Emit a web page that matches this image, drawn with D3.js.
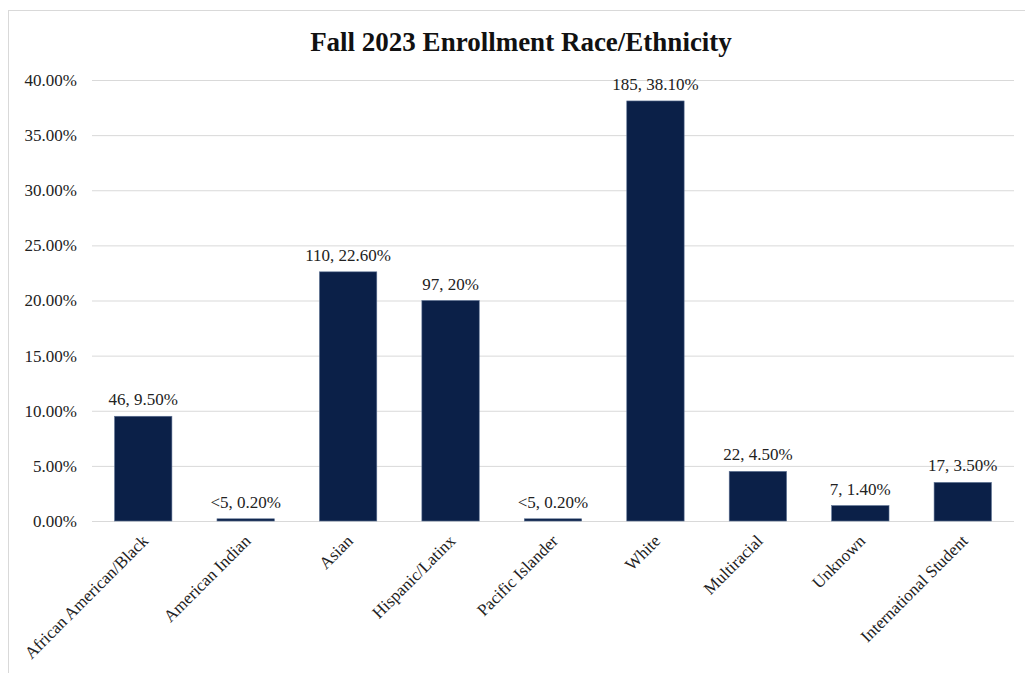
<!DOCTYPE html>
<html>
<head>
<meta charset="utf-8">
<script src="https://cdn.jsdelivr.net/npm/d3@7"></script>
<style>
  html, body { margin: 0; padding: 0; background: #fff; }
  svg { display: block; }
</style>
</head>
<body>
<svg id="chart" width="1025" height="673"></svg>
<script>
// Fall 2023 enrollment by race/ethnicity
const categories = ["African American/Black", "American Indian", "Asian", "Hispanic/Latinx",
  "Pacific Islander", "White", "Multiracial", "Unknown", "International Student"];
const percents = [9.5, 0.2, 22.6, 20, 0.2, 38.1, 4.5, 1.4, 3.5];
const labels = ["46, 9.50%", "<5, 0.20%", "110, 22.60%", "97, 20%", "<5, 0.20%",
  "185, 38.10%", "22, 4.50%", "7, 1.40%", "17, 3.50%"];
const yTicks = [0, 5, 10, 15, 20, 25, 30, 35, 40];

const serif = "'Liberation Serif', 'DejaVu Serif', serif";
const svg = d3.select("#chart");

// outer frame
svg.append("rect")
  .attr("x", 8.5).attr("y", 10.5)
  .attr("width", 1030).attr("height", 680)
  .attr("fill", "none").attr("stroke", "#d9d9d9").attr("stroke-width", 1);

const margin = { left: 92, right: 1014, top: 80, bottom: 521 };

const x = d3.scaleBand()
  .domain(categories)
  .range([margin.left, margin.right])
  .paddingInner(0.44).paddingOuter(0.22);

const y = d3.scaleLinear().domain([0, 40]).range([margin.bottom, margin.top]);

// title
svg.append("text")
  .attr("x", 521).attr("y", 51)
  .attr("text-anchor", "middle")
  .attr("font-family", serif).attr("font-weight", "bold")
  .attr("font-size", 27).attr("fill", "#111")
  .text("Fall 2023 Enrollment Race/Ethnicity");

// gridlines and y labels
const yAxis = d3.axisLeft(y)
  .tickValues(yTicks)
  .tickSize(-(margin.right - margin.left))
  .tickPadding(15)
  .tickFormat(d => d.toFixed(2) + "%");

const gy = svg.append("g")
  .attr("transform", `translate(${margin.left},0)`)
  .call(yAxis);
gy.select(".domain").remove();
gy.selectAll(".tick line").attr("stroke", "#d9d9d9").attr("stroke-width", 1);
gy.selectAll(".tick text")
  .attr("font-family", serif).attr("font-size", 17).attr("fill", "#222");

// bars
svg.append("g").selectAll("rect")
  .data(categories)
  .join("rect")
  .attr("x", d => x(d))
  .attr("width", x.bandwidth())
  .attr("y", (d, i) => y(percents[i]))
  .attr("height", (d, i) => y(0) - y(percents[i]))
  .attr("fill", "#0b2048")
  .attr("stroke", "#5d7294").attr("stroke-width", 0.6);

// value labels
svg.append("g").selectAll("text")
  .data(categories)
  .join("text")
  .attr("x", d => x(d) + x.bandwidth() / 2)
  .attr("y", (d, i) => y(percents[i]) - 11)
  .attr("text-anchor", "middle")
  .attr("font-family", serif).attr("font-size", 17).attr("fill", "#222")
  .text((d, i) => labels[i]);

// category labels, rotated
svg.append("g").selectAll("text")
  .data(categories)
  .join("text")
  .attr("transform", d => `translate(${x(d) + x.bandwidth() / 2 + 6},${margin.bottom + 21}) rotate(-45)`)
  .attr("text-anchor", "end")
  .attr("font-family", serif).attr("font-size", 17).attr("fill", "#222")
  .text(d => d);
</script>
</body>
</html>
